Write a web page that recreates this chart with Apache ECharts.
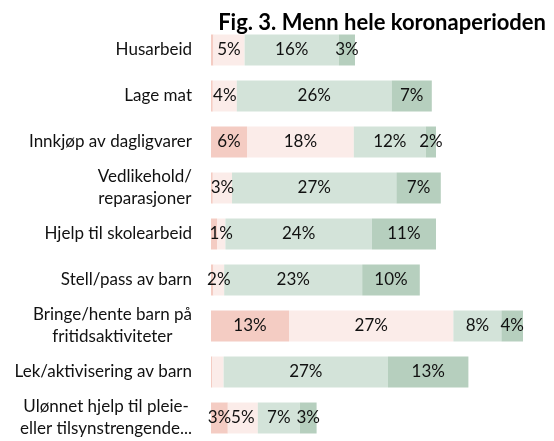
<!DOCTYPE html>
<html>
<head>
<meta charset="utf-8">
<script src="https://cdn.jsdelivr.net/npm/echarts@6/dist/echarts.min.js"></script>
<style>
  html, body { margin: 0; padding: 0; background: #fff; }
  #chart { width: 554px; height: 441px; }
</style>
</head>
<body>
<div id="chart"></div>
<script>
  // kategorier, ovenfra og ned
  const categories = [
    "Husarbeid",
    "Lage mat",
    "Innkjøp av dagligvarer",
    "Vedlikehold/\nreparasjoner",
    "Hjelp til skolearbeid",
    "Stell/pass av barn",
    "Bringe/hente barn på\nfritidsaktiviteter",
    "Lek/aktivisering av barn",
    "Ulønnet hjelp til pleie-\neller tilsynstrengende..."
  ];
  // prosentandeler per segment (venstre -> høyre)
  const darkRed = [0.4, 0.3, 6.0, 0.3, 1.0, 0.4, 13.0, 0.2, 2.8];
  const lightRed = [5.2, 4.0, 17.8, 3.2, 1.4, 1.8, 27.4, 1.9, 5.0];
  const lightGreen = [15.7, 25.8, 12.0, 27.4, 24.4, 23.0, 8.0, 27.4, 7.0];
  const darkGreen = [2.7, 6.7, 1.7, 7.4, 10.7, 9.6, 3.6, 13.4, 2.8];
  // etiketter som ikke vises i figuren [serie, kategori]
  const hiddenLabels = [
    [0, 0], [0, 1], [0, 3], [0, 4], [0, 5], [0, 7],
    [1, 7]
  ];

  const colors = ["#F4CCC3", "#FBECE9", "#D3E3D9", "#B6CFBE"];
  const seriesData = [darkRed, lightRed, lightGreen, darkGreen];

  const chart = echarts.init(document.getElementById("chart"));

  const isHidden = (s, i) => hiddenLabels.some(h => h[0] === s && h[1] === i);

  const series = seriesData.map((arr, s) => ({
    type: "bar",
    stack: "total",
    barWidth: 31,
    itemStyle: { color: colors[s] },
    label: {
      show: true,
      position: "inside",
      fontFamily: "Lato",
      fontSize: 17,
      color: "#111",
      formatter: p => Math.round(p.value) + "%"
    },
    data: arr.map((v, i) => isHidden(s, i) ? { value: v, label: { show: false } } : v)
  }));

  const option = {
    animation: false,
    title: {
      text: "Fig. 3. Menn hele koronaperioden",
      right: 3,
      top: 7,
      textStyle: { fontFamily: "Lato", fontWeight: "bold", fontSize: 22, color: "#000" }
    },
    grid: { left: 211, top: 27, width: 330, height: 417 },
    xAxis: { type: "value", min: 0, max: 55, show: false },
    yAxis: {
      type: "category",
      inverse: true,
      data: categories,
      axisLine: { show: false },
      axisTick: { show: false },
      axisLabel: {
        margin: 19,
        fontFamily: "Lato",
        fontSize: 17,
        color: "#111",
        lineHeight: 22,
        formatter: v => v.indexOf("\n") >= 0
          ? v.split("\n").map(l => "{c|" + l + "}").join("\n")
          : v,
        rich: {
          c: { align: "center", fontFamily: "Lato", fontSize: 17, color: "#111", lineHeight: 22 }
        }
      }
    },
    series: series
  };

  chart.setOption(option);
</script>
</body>
</html>
